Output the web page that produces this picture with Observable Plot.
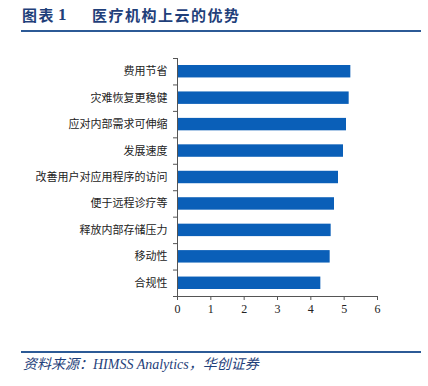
<!DOCTYPE html>
<html>
<head>
<meta charset="utf-8">
<script src="https://cdn.jsdelivr.net/npm/d3@7"></script>
<script src="https://cdn.jsdelivr.net/npm/@observablehq/plot@0.6"></script>
<style>
  html, body { margin: 0; padding: 0; background: #fff; }
  #wrap { position: relative; width: 428px; height: 386px; overflow: hidden; }
  .t { position: absolute; top: 5px; font-family: "Noto Sans CJK SC", sans-serif; font-weight: bold; font-size: 15px; color: #1f3f7a; white-space: pre; line-height: 20px; letter-spacing: 1.5px; }
  .line { position: absolute; left: 21px; width: 400px; height: 2px; background: #2c5a96; }
  #chart { position: absolute; left: 0; top: 40px; }
  #source { position: absolute; left: 23px; top: 356px; font-family: "Liberation Serif", "Noto Sans CJK SC", serif; font-style: italic; font-size: 14px; color: #1f3f7a; white-space: pre; line-height: 18px; }
</style>
</head>
<body>
<div id="wrap">
  <div class="t" style="left:22px">图表</div>
  <div class="t" style="left:58px; font-family:'Liberation Serif', serif; font-size:17px">1</div>
  <div class="t" style="left:92px">医疗机构上云的优势</div>
  <div class="line" style="top:30px"></div>
  <div id="chart"></div>
  <div class="line" style="top:351px"></div>
  <div id="source">资料来源：HIMSS Analytics，华创证券</div>
</div>
<script>
const categories = ["费用节省", "灾难恢复更稳健", "应对内部需求可伸缩", "发展速度", "改善用户对应用程序的访问", "便于远程诊疗等", "释放内部存储压力", "移动性", "合规性"];
const values = [5.20, 5.15, 5.07, 4.98, 4.83, 4.71, 4.61, 4.58, 4.30];
const xTicks = [0, 1, 2, 3, 4, 5, 6];

const data = categories.map((c, i) => ({cat: c, value: values[i], i}));
const bandEdges = d3.range(categories.length + 1);

const chart = Plot.plot({
  width: 428,
  height: 300,
  marginLeft: 177,
  marginRight: 51,
  marginTop: 18,
  marginBottom: 44,
  style: {fontFamily: '"Liberation Serif", "Noto Sans CJK SC", serif', fontSize: "11px", color: "#222", background: "transparent"},
  x: {domain: [0, 6], label: null},
  y: {domain: [0, categories.length], reverse: true, label: null},
  marks: [
    Plot.rectX(data, {x: "value", y1: "i", y2: d => d.i + 1, insetTop: 7, insetBottom: 7, fill: "#0a5fb8"}),
    Plot.ruleX([0], {stroke: "#555"}),
    Plot.ruleY([categories.length], {stroke: "#555"}),
    Plot.axisY({ticks: bandEdges, tickSize: 4, tickFormat: () => "", stroke: "#555"}),
    Plot.text(data, {x: 0, y: d => d.i + 0.5, text: "cat", textAnchor: "end", dx: -10, fontFamily: '"Noto Sans CJK SC", sans-serif', fontSize: 11, fill: "#222"}),
    Plot.axisX({ticks: xTicks, tickSize: 4, tickPadding: 4, tickFormat: d3.format("d"), stroke: "#555", fill: "#222", fontSize: 12})
  ]
});
document.getElementById("chart").appendChild(chart);
</script>
</body>
</html>
